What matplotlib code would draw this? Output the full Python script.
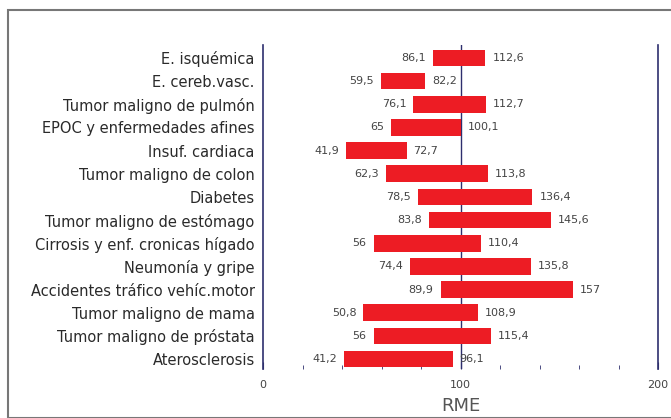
import numpy as np
import matplotlib.pyplot as plt
from matplotlib.patches import Rectangle
from matplotlib.ticker import MultipleLocator

causas = ['E. isquémica', 'E. cereb.vasc.', 'Tumor maligno de pulmón',
          'EPOC y enfermedades afines', 'Insuf. cardiaca', 'Tumor maligno de colon',
          'Diabetes', 'Tumor maligno de estómago', 'Cirrosis y enf. cronicas hígado',
          'Neumonía y gripe', 'Accidentes tráfico vehíc.motor', 'Tumor maligno de mama',
          'Tumor maligno de próstata', 'Aterosclerosis']
inf = [86.1, 59.5, 76.1, 65, 41.9, 62.3, 78.5, 83.8, 56, 74.4, 89.9, 50.8, 56, 41.2]
sup = [112.6, 82.2, 112.7, 100.1, 72.7, 113.8, 136.4, 145.6, 110.4, 135.8, 157, 108.9, 115.4, 96.1]

def fmt(v):
    return ('%g' % v).replace('.', ',')

rojo = '#ED1C24'
azul = '#2E2F6E'
gris = '#444444'

fig = plt.figure(figsize=(6.71, 4.18), dpi=100)
fig.patches.append(Rectangle((8/671, 0), 1, 1 - 10/418, transform=fig.transFigure,
                             fill=False, edgecolor='#777777', lw=1.5))
ax = fig.add_axes([263/671, 1 - 369/418, 395/671, (369 - 45)/418])

y = np.arange(len(causas))
inf_a = np.array(inf)
sup_a = np.array(sup)
ax.barh(y, sup_a - inf_a, left=inf_a, height=0.72, color=rojo, zorder=3)
for yi, a, b in zip(y, inf, sup):
    ax.annotate(fmt(a), (a, yi), xytext=(-5, 0), textcoords='offset points',
                ha='right', va='center', fontsize=8, color=gris)
    ax.annotate(fmt(b), (b, yi), xytext=(5, 0), textcoords='offset points',
                ha='left', va='center', fontsize=8, color=gris)

ax.axvline(100, color=azul, lw=1, zorder=2)
ax.set_xlim(0, 200)
ax.set_ylim(13.43, -0.56)
ax.set_yticks(y)
ax.set_yticklabels(causas, fontsize=10.5, color='#2a2a2a')
ax.tick_params(axis='y', length=0, pad=6)
ax.set_xticks([0, 100, 200])
ax.xaxis.set_minor_locator(MultipleLocator(20))
ax.tick_params(axis='x', which='major', direction='in', length=5, color=azul,
               labelsize=8, labelcolor=gris, pad=8)
ax.tick_params(axis='x', which='minor', direction='in', length=3, color=azul)
ax.set_xlabel('RME', fontsize=13, color='#555555', labelpad=5)

for s in ['top', 'bottom']:
    ax.spines[s].set_visible(False)
for s in ['left', 'right']:
    ax.spines[s].set_color(azul)
    ax.spines[s].set_linewidth(1.2)

fig.savefig('out.png', dpi=100)
